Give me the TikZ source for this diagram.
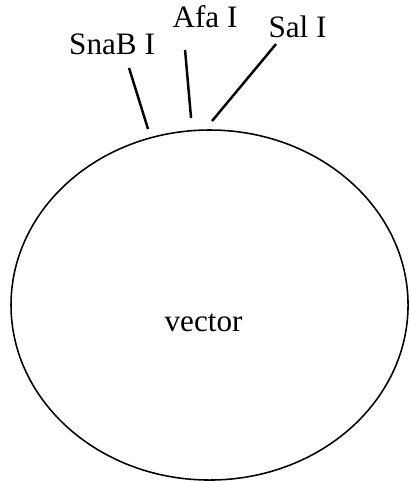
\documentclass[tikz,border=0pt]{standalone}
\usepackage{fontspec}
\setmainfont{Liberation Serif}
\tikzset{
  site/.style={font=\fontsize{12}{14}\selectfont, inner sep=0pt, anchor=base},
  cut/.style={line width=0.95pt}
}
\begin{document}
\begin{tikzpicture}
% Fix the page size
\useasboundingbox (-2.835, -2.381) rectangle (2.699, 4.127);

% The plasmid body
\draw[line width=0.6pt] (0, 0) ellipse (2.686 and 2.368);
\node[site] (vec) at (-0.081, -0.352) {vector};

% Restriction sites and their labels
\node[site] (snab) at (-1.319, 3.383) {SnaB I};
\node[site] (afa) at (-0.061, 3.761) {Afa I};
\node[site] (sal) at (1.191, 3.613) {Sal I};

\coordinate (snab top) at (-1.089, 3.207);
\coordinate (snab end) at (-0.832, 2.381);
\coordinate (afa top) at (-0.331, 3.450);
\coordinate (afa end) at (-0.250, 2.530);
\coordinate (sal top) at (0.900, 3.531);
\coordinate (sal end) at (0.034, 2.490);

\draw[cut] (snab top) -- (snab end);
\draw[cut] (afa top) -- (afa end);
\draw[cut] (sal top) -- (sal end);
\end{tikzpicture}
\end{document}
